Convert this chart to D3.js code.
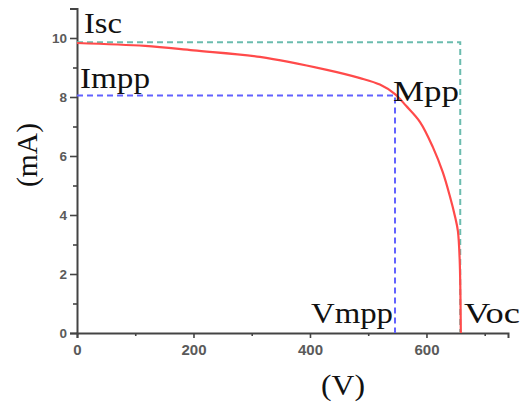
<!DOCTYPE html>
<html>
<head>
<meta charset="utf-8">
<script src="https://cdn.jsdelivr.net/npm/d3@7"></script>
<style>
  body { margin: 0; background: #fff; }
  svg { display: block; }
</style>
</head>
<body>
<div id="chart"></div>
<script>
// I-V curve
const voltage = [0, 117, 200, 314, 429, 486, 520, 546, 565, 589, 611, 628, 640, 649, 654, 657, 659];
const current = [9.83, 9.73, 9.58, 9.36, 8.92, 8.64, 8.42, 8.1, 7.7, 7.15, 6.3, 5.45, 4.65, 3.95, 3.45, 2.5, 0];

const xTicks = [0, 200, 400, 600];
const xMinor = [100, 300, 500, 700];
const yTicks = [0, 2, 4, 6, 8, 10];
const yMinor = [1, 3, 5, 7, 9, 11];

const isc = 9.86, voc = 658;
const impp = 8.05, vmpp = 546;

const width = 521, height = 406;

const svg = d3.select("#chart").append("svg")
  .attr("width", width)
  .attr("height", height);

const x = d3.scaleLinear().domain([0, 740]).range([77, 508]);
const y = d3.scaleLinear().domain([0, 11]).range([333, 8.5]);

const AXIS = "#444";

// axes
let gx = svg.append("g").attr("transform", "translate(0,333)");
gx.call(d3.axisBottom(x).tickValues(xTicks).tickSize(5).tickPadding(6).tickFormat(d3.format("d")));
gx.append("g").call(d3.axisBottom(x).tickValues(xMinor).tickSize(3).tickFormat(""));

let gy = svg.append("g").attr("transform", "translate(77,0)");
gy.call(d3.axisLeft(y).tickValues(yTicks).tickSize(7).tickPadding(3).tickFormat(d3.format("d")));
gy.append("g").call(d3.axisLeft(y).tickValues(yMinor).tickSize(4).tickFormat(""));

svg.selectAll(".domain").attr("stroke", AXIS).attr("stroke-width", 2);
svg.selectAll(".tick line").attr("stroke", AXIS).attr("stroke-width", 1.6);
svg.selectAll(".tick text")
  .attr("fill", "#5a5a5a")
  .attr("font-family", "Liberation Sans, Arial, sans-serif")
  .attr("font-weight", "bold");
gx.selectAll(".tick text").attr("font-size", 15);
gy.selectAll(".tick text").attr("font-size", 13.5);
gx.selectAll(".domain").filter(function () { return this.parentNode !== gx.node(); }).remove();
gy.selectAll(".domain").filter(function () { return this.parentNode !== gy.node(); }).remove();

// reference lines
svg.append("path")
  .attr("d", d3.line()([[x(0), y(isc)], [x(voc), y(isc)], [x(voc), y(0)]]))
  .attr("fill", "none")
  .attr("stroke", "#6bbcae")
  .attr("stroke-width", 2)
  .attr("stroke-dasharray", "6,4");

svg.append("path")
  .attr("d", d3.line()([[x(0), y(impp)], [x(vmpp), y(impp)], [x(vmpp), y(0)]]))
  .attr("fill", "none")
  .attr("stroke", "#6262ff")
  .attr("stroke-width", 2)
  .attr("stroke-dasharray", "6,4");

// curve
let pts = voltage.map((v, i) => [v, current[i]]);
svg.append("path")
  .datum(pts)
  .attr("d", d3.line().x(d => x(d[0])).y(d => y(d[1])).curve(d3.curveCatmullRom.alpha(0.5)))
  .attr("fill", "none")
  .attr("stroke", "#ff4a4a")
  .attr("stroke-width", 2.2);

// labels
const serif = "Liberation Serif, Times New Roman, serif";
const labels = [
  ["Isc", 84, 33, 38],
  ["Impp", 80, 88, 70],
  ["Mpp", 393, 101, 66],
  ["Vmpp", 311, 323, 82],
  ["Voc", 464, 323, 56]
];
svg.selectAll("text.lbl")
  .data(labels)
  .join("text")
  .attr("class", "lbl")
  .attr("x", d => d[1])
  .attr("y", d => d[2])
  .attr("textLength", d => d[3])
  .attr("lengthAdjust", "spacingAndGlyphs")
  .attr("font-family", serif)
  .attr("font-size", 30)
  .attr("fill", "#111")
  .text(d => d[0]);

svg.append("text")
  .attr("transform", "translate(37,155) rotate(-90)")
  .attr("text-anchor", "middle")
  .attr("textLength", 64)
  .attr("lengthAdjust", "spacingAndGlyphs")
  .attr("font-family", serif)
  .attr("font-size", 29)
  .attr("fill", "#111")
  .text("(mA)");

svg.append("text")
  .attr("x", 343)
  .attr("y", 395)
  .attr("text-anchor", "middle")
  .attr("textLength", 44)
  .attr("lengthAdjust", "spacingAndGlyphs")
  .attr("font-family", serif)
  .attr("font-size", 29)
  .attr("fill", "#111")
  .text("(V)");
</script>
</body>
</html>
